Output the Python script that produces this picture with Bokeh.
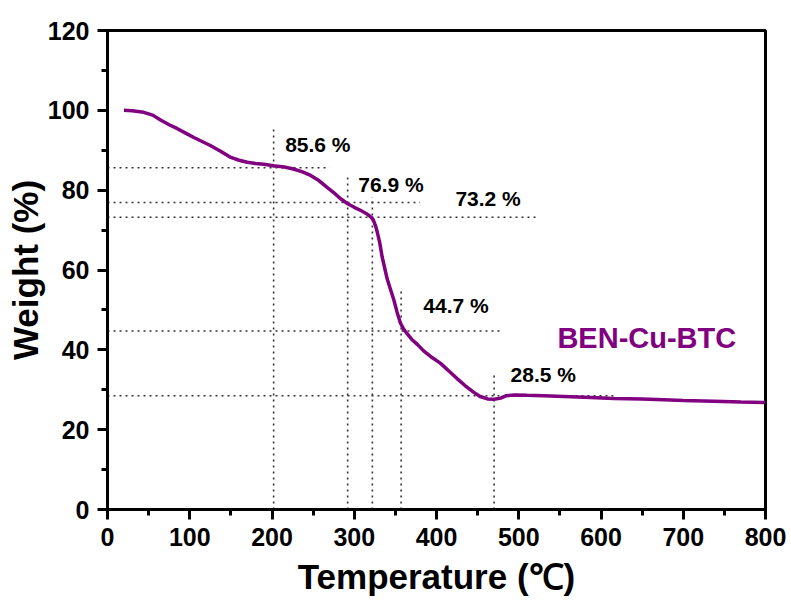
from bokeh.plotting import figure
from bokeh.models import SingleIntervalTicker, Label
from bokeh.embed import file_html
from bokeh.resources import INLINE

# TGA curve (temperature in °C, weight in %)
temp = [20, 30, 44, 55, 65, 75, 85, 95, 105, 115, 125, 138, 150, 160, 170, 180, 190,
        202, 215, 226, 237, 247, 257, 267, 275, 283, 292, 300, 308, 315, 320, 323,
        326, 328, 331, 334, 337, 340, 344, 348, 352, 356, 360, 364, 370, 377, 384,
        395, 405, 415, 425, 435, 445, 453, 462, 470, 478, 485, 495, 510, 530, 555,
        580, 616, 650, 676, 700, 737, 770, 800]
weight = [100.0, 99.9, 99.5, 98.8, 97.5, 96.4, 95.4, 94.3, 93.2, 92.2, 91.2, 89.7, 88.2,
          87.5, 87.0, 86.7, 86.5, 86.1, 85.8, 85.3, 84.6, 83.7, 82.4, 80.7, 79.4, 77.9,
          76.6, 75.7, 74.9, 74.1, 73.3, 72.6, 71.0, 69.5, 66.8, 63.2, 60.5, 57.8, 55.2,
          52.6, 49.5, 46.8, 45.2, 44.1, 42.6, 41.3, 39.8, 38.0, 36.6, 34.7, 32.8, 31.0,
          29.4, 28.3, 27.7, 27.6, 27.9, 28.5, 28.7, 28.6, 28.5, 28.3, 28.1, 27.8, 27.7,
          27.5, 27.3, 27.1, 26.9, 26.8]

# reference (dotted) lines
h_levels = [85.6, 76.9, 73.2, 44.7, 28.5]
h_ends = [270, 380, 524, 478, 615]
v_temps = [202, 292, 322, 357, 470]
v_tops = [95.5, 83.3, 78.2, 55.4, 33.8]

# annotation labels
ann_texts = ["85.6 %", "76.9 %", "73.2 %", "44.7 %", "28.5 %"]
ann_x = [216, 305, 423, 384, 490]
ann_y = [91.4, 81.4, 77.8, 51.0, 33.7]

series_name = "BEN-Cu-BTC"

FONT = "Liberation Sans"
PURPLE = "#800080"

p = figure(width=791, height=602, x_range=(0, 800), y_range=(0, 120),
           output_backend="svg", toolbar_location=None,
           min_border_left=107, min_border_right=26, min_border_top=30,
           min_border_bottom=93)
p.xgrid.visible = False
p.ygrid.visible = False
p.outline_line_color = "black"
p.outline_line_width = 3
p.background_fill_color = "white"
p.border_fill_color = "white"

p.xaxis.ticker = SingleIntervalTicker(interval=100, num_minor_ticks=2)
p.yaxis.ticker = SingleIntervalTicker(interval=20, num_minor_ticks=2)

for ax in (p.xaxis, p.yaxis):
    ax.axis_line_width = 3
    ax.axis_line_color = "black"
    ax.major_tick_in = 0
    ax.major_tick_out = 10
    ax.minor_tick_in = 0
    ax.minor_tick_out = 6
    ax.major_tick_line_width = 3
    ax.minor_tick_line_width = 3
    ax.major_tick_line_color = "black"
    ax.minor_tick_line_color = "black"
    ax.major_label_text_font = FONT
    ax.major_label_text_font_style = "bold"
    ax.major_label_text_font_size = "25px"
    ax.major_label_text_color = "black"
    ax.axis_label_text_font = FONT
    ax.axis_label_text_font_style = "bold"
    ax.axis_label_text_font_size = "35px"
    ax.axis_label_text_color = "black"

p.xaxis.major_label_standoff = 8
p.yaxis.major_label_standoff = 8
p.xaxis.axis_label = "Temperature (\u2103)"
p.yaxis.axis_label = "Weight (%)"
p.xaxis.axis_label_standoff = 8
p.yaxis.axis_label_standoff = 0

# dotted reference lines
for lvl, xe in zip(h_levels, h_ends):
    p.line([0, xe], [lvl, lvl], line_color="#333333", line_width=1.6, line_dash="2 4")
for xt, yt in zip(v_temps, v_tops):
    p.line([xt, xt], [0, yt], line_color="#333333", line_width=1.6, line_dash="2 4")

# curve
p.line(temp, weight, line_color=PURPLE, line_width=3.5)

for t, x, y in zip(ann_texts, ann_x, ann_y):
    p.add_layout(Label(x=x, y=y, text=t, text_font=FONT, text_font_style="bold",
                       text_font_size="21px", text_color="black",
                       text_baseline="middle", text_align="left"))

p.add_layout(Label(x=547, y=43, text=series_name, text_font=FONT,
                   text_font_style="bold", text_font_size="29px",
                   text_color=PURPLE, text_baseline="middle", text_align="left"))

open("out.html", "w").write(file_html(p, INLINE))
